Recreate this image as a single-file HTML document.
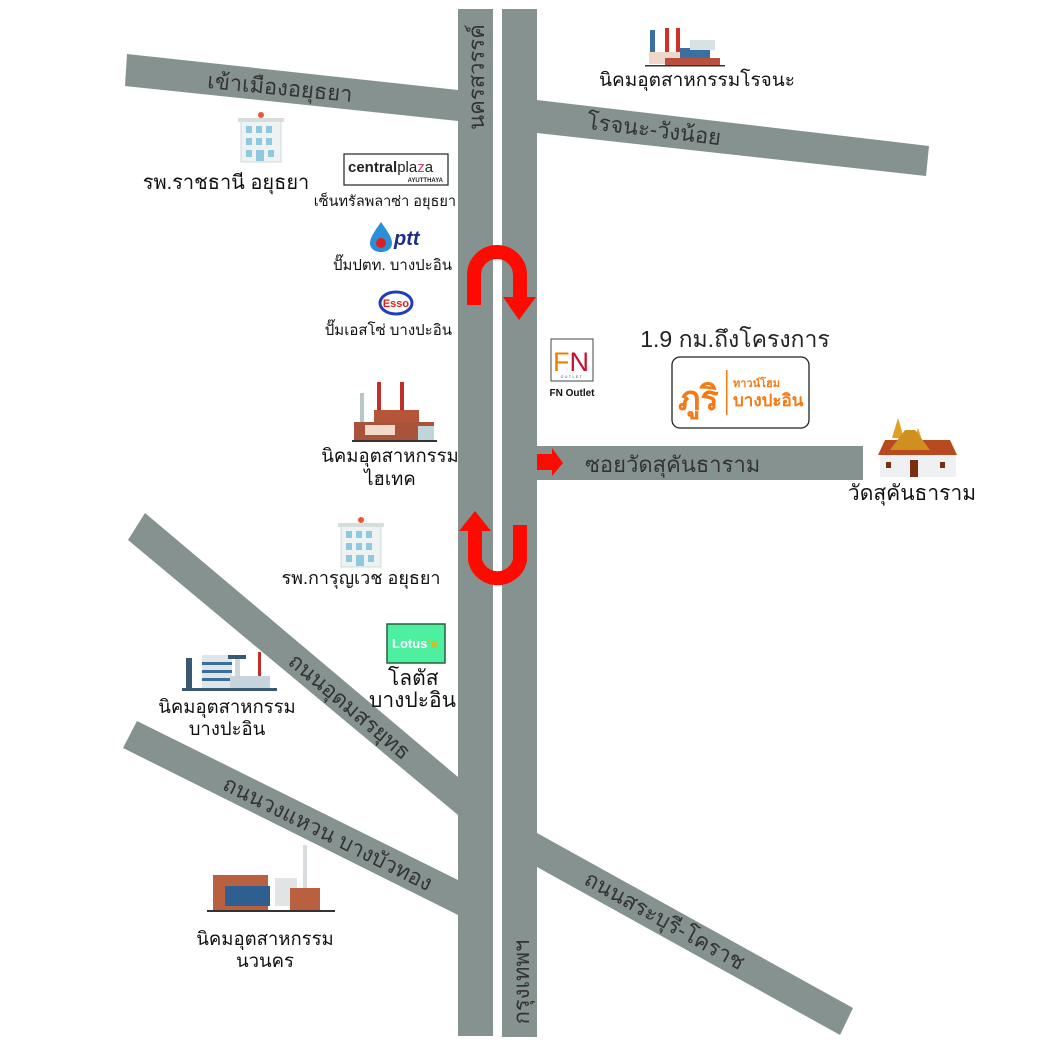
<!DOCTYPE html>
<html><head><meta charset="utf-8">
<style>
html,body{margin:0;padding:0;background:#fff;}
svg{display:block;}
text{font-family:"Liberation Sans","Noto Sans CJK SC",sans-serif;}
</style></head>
<body>
<svg width="1040" height="1040" viewBox="0 0 1040 1040" xmlns="http://www.w3.org/2000/svg">
<g fill="#85928f">
<polygon points="127,54 458,90 458,121 125,86"/>
<polygon points="537,100 929,146 926,176 537,133"/>
<rect x="537" y="446" width="326" height="34"/>
<polygon points="145,513 458,777 458,815 128,540"/>
<polygon points="137,721 458,880 458,915 123,748"/>
<polygon points="537,833 853,1008 840,1035 537,867"/>
<rect x="458" y="9" width="35" height="1027"/>
<rect x="502" y="9" width="35" height="1028"/>
</g>
<!-- road labels -->
<g fill="#333" font-size="22">
<text x="280" y="95" text-anchor="middle" transform="rotate(5.5 280 87)">เข้าเมืองอยุธยา</text>
<text x="654" y="137" text-anchor="middle" transform="rotate(7 654 130)">โรจนะ-วังน้อย</text>
<text x="350" y="714" text-anchor="middle" transform="rotate(40 350 706)">ถนนอุดมสรยุทธ</text>
<text x="328" y="841" text-anchor="middle" transform="rotate(26.4 328 833)">ถนนวงแหวน บางบัวทอง</text>
<text x="665" y="928" text-anchor="middle" transform="rotate(29 665 920)">ถนนสระบุรี-โคราช</text>
<text x="484" y="77" text-anchor="middle" transform="rotate(-90 484 77)">นครสวรรค์</text>
<text x="529" y="982" text-anchor="middle" transform="rotate(-90 529 982)">กรุงเทพฯ</text>
<text x="585" y="472">ซอยวัดสุคันธาราม</text>
</g>
<!-- red arrows -->
<g fill="none" stroke="#ff0a00" stroke-width="14">
<path d="M474,305 V275 A23,23 0 0 1 520,275 V300"/>
<path d="M475,530 V560 A23,23 0 0 0 520,560 V525"/>
</g>
<g fill="#ff0a00">
<polygon points="503,297 536,297 519,320"/>
<polygon points="459,531 491,531 475,511"/>
<polygon points="537,454 552,454 552,448 563,463 552,476 552,470 537,470"/>
</g>
<!-- hospitals -->
<g>
<rect x="241" y="120" width="40" height="42" fill="#eef2f2" stroke="#cfd8d8"/>
<rect x="238" y="118" width="46" height="4" fill="#d6dddd"/>
<circle cx="261" cy="115" r="3" fill="#e53"/>
<g fill="#8fc9e0"><rect x="246" y="126" width="6" height="7"/><rect x="256" y="126" width="6" height="7"/><rect x="266" y="126" width="6" height="7"/><rect x="246" y="138" width="6" height="7"/><rect x="256" y="138" width="6" height="7"/><rect x="266" y="138" width="6" height="7"/><rect x="246" y="150" width="6" height="7"/><rect x="256" y="150" width="8" height="11"/><rect x="268" y="150" width="6" height="7"/></g>
</g>
<g transform="translate(100,405)">
<rect x="241" y="120" width="40" height="42" fill="#eef2f2" stroke="#cfd8d8"/>
<rect x="238" y="118" width="46" height="4" fill="#d6dddd"/>
<circle cx="261" cy="115" r="3" fill="#e53"/>
<g fill="#8fc9e0"><rect x="246" y="126" width="6" height="7"/><rect x="256" y="126" width="6" height="7"/><rect x="266" y="126" width="6" height="7"/><rect x="246" y="138" width="6" height="7"/><rect x="256" y="138" width="6" height="7"/><rect x="266" y="138" width="6" height="7"/><rect x="246" y="150" width="6" height="7"/><rect x="256" y="150" width="8" height="11"/><rect x="268" y="150" width="6" height="7"/></g>
</g>
<!-- central plaza -->
<rect x="344" y="154" width="104" height="31" fill="#fff" stroke="#222" stroke-width="1.2"/>
<text x="348" y="172" font-size="15" font-weight="bold" fill="#222">central<tspan font-weight="normal">pla<tspan fill="#d04060">z</tspan>a</tspan></text>
<text x="443" y="182" font-size="6" font-weight="bold" text-anchor="end" fill="#222">AYUTTHAYA</text>
<!-- ptt -->
<path d="M381,222 C374,232 370,238 370,243 C370,249 375,252 381,252 C387,252 392,249 392,243 C392,238 388,232 381,222Z" fill="#2a8ed8"/>
<circle cx="381" cy="243" r="5" fill="#e02020"/>
<text x="394" y="245" font-size="20" font-weight="bold" font-style="italic" fill="#1c2e8a">ptt</text>
<!-- esso -->
<ellipse cx="396" cy="303" rx="16" ry="11" fill="#fff" stroke="#1f3fb8" stroke-width="3"/>
<text x="396" y="307" font-size="11" font-weight="bold" fill="#e0201c" text-anchor="middle">Esso</text>
<!-- factories -->
<g>
<rect x="377" y="382" width="4" height="30" fill="#c0302a"/><rect x="400" y="382" width="4" height="30" fill="#c0302a"/>
<rect x="360" y="393" width="4" height="30" fill="#b8c6c8"/>
<rect x="374" y="410" width="45" height="12" fill="#b5563a"/>
<rect x="354" y="422" width="80" height="18" fill="#a9533a"/>
<rect x="365" y="425" width="30" height="10" fill="#f2d8c8"/>
<rect x="418" y="426" width="16" height="14" fill="#c0d4dc"/>
<rect x="352" y="440" width="85" height="2" fill="#333"/>
</g>
<g>
<rect x="650" y="30" width="5" height="30" fill="#3a6fa0"/>
<rect x="665" y="28" width="4" height="25" fill="#d0302a"/><rect x="676" y="28" width="4" height="30" fill="#d0302a"/>
<rect x="649" y="52" width="40" height="12" fill="#f0d8c8"/>
<rect x="665" y="58" width="55" height="8" fill="#b85040"/>
<rect x="680" y="48" width="30" height="10" fill="#3a6fa0"/>
<rect x="690" y="40" width="25" height="10" fill="#d8e2e2"/>
<rect x="645" y="65" width="80" height="1.5" fill="#333"/>
</g>
<g>
<rect x="186" y="658" width="6" height="30" fill="#3a5870"/>
<rect x="202" y="655" width="30" height="35" fill="#dfe6ea"/>
<rect x="202" y="662" width="30" height="3" fill="#3a6fa0"/><rect x="202" y="670" width="30" height="3" fill="#3a6fa0"/><rect x="202" y="678" width="30" height="3" fill="#3a6fa0"/>
<rect x="228" y="655" width="18" height="4" fill="#3a5870"/><rect x="235" y="659" width="5" height="30" fill="#cfd8d8"/>
<rect x="258" y="652" width="3" height="30" fill="#c0302a"/>
<rect x="230" y="676" width="40" height="12" fill="#c8d4dc"/>
<rect x="182" y="688" width="95" height="3" fill="#3a5870"/>
</g>
<g>
<rect x="213" y="875" width="55" height="35" fill="#b8603f"/>
<rect x="225" y="886" width="45" height="20" fill="#2f5e90"/>
<rect x="275" y="878" width="22" height="28" fill="#e0e4e4"/>
<rect x="303" y="845" width="4" height="60" fill="#d8dcdc"/>
<rect x="290" y="888" width="30" height="22" fill="#b8603f"/>
<rect x="207" y="910" width="128" height="2" fill="#333"/>
</g>
<!-- lotus -->
<rect x="387" y="624" width="58" height="39" fill="#4df0a0" stroke="#2a6040" stroke-width="1.5"/>
<text x="392" y="648" font-size="13" font-weight="bold" fill="#fff">Lotus<tspan fill="#f5b000">'s</tspan></text>
<!-- FN -->
<rect x="551" y="339" width="42" height="42" fill="#fff" stroke="#444"/>
<text x="553" y="371" font-size="27" fill="#f07d00">F<tspan fill="#c8102e">N</tspan></text>
<text x="572" y="378" font-size="3.5" text-anchor="middle" fill="#444" letter-spacing="1.5">OUTLET</text>
<text x="572" y="396" font-size="10" font-weight="bold" text-anchor="middle" fill="#111">FN Outlet</text>
<!-- phoo ri -->
<rect x="672" y="357" width="137" height="71" rx="8" fill="#fff" stroke="#222" stroke-width="1.3"/>
<text x="678" y="410" font-size="34" font-weight="bold" fill="#f57a14">ภูริ</text>
<rect x="726" y="370" width="1.5" height="45" fill="#f57a14"/>
<text x="733" y="387" font-size="11" fill="#f57a14" font-weight="bold">ทาวน์โฮม</text>
<text x="733" y="406" font-size="17" fill="#f57a14" font-weight="bold">บางปะอิน</text>
<!-- temple -->
<g>
<polygon points="898,418 904,438 892,438" fill="#e0a020"/>
<polygon points="918,428 922,440 914,440" fill="#e0a020"/>
<polygon points="885,440 950,440 957,455 878,455" fill="#b84a20"/>
<polygon points="905,430 915,430 930,450 890,450" fill="#d09020"/>
<rect x="880" y="455" width="76" height="22" fill="#eef0f2"/>
<rect x="910" y="460" width="8" height="17" fill="#7a3010"/>
<rect x="886" y="462" width="5" height="6" fill="#7a3010"/><rect x="940" y="462" width="5" height="6" fill="#7a3010"/>
</g>
<!-- labels -->
<g fill="#111">
<text x="697" y="86" font-size="19" text-anchor="middle">นิคมอุตสาหกรรมโรจนะ</text>
<text x="226" y="189" font-size="20" text-anchor="middle">รพ.ราชธานี อยุธยา</text>
<text x="456" y="206" font-size="14.5" text-anchor="end">เซ็นทรัลพลาซ่า อยุธยา</text>
<text x="452" y="270" font-size="15" text-anchor="end">ปั๊มปตท. บางปะอิน</text>
<text x="452" y="335" font-size="15" text-anchor="end">ปั๊มเอสโซ่ บางปะอิน</text>
<text x="735" y="347" font-size="23" text-anchor="middle" fill="#222">1.9 กม.ถึงโครงการ</text>
<text x="390" y="462" font-size="18.5" text-anchor="middle">นิคมอุตสาหกรรม</text>
<text x="390" y="485" font-size="18.5" text-anchor="middle">ไฮเทค</text>
<text x="912" y="500" font-size="21" text-anchor="middle">วัดสุคันธาราม</text>
<text x="361" y="584" font-size="18" text-anchor="middle">รพ.การุญเวช อยุธยา</text>
<text x="388" y="685" font-size="21">โลตัส</text>
<text x="456" y="707" font-size="21" text-anchor="end">บางปะอิน</text>
<text x="227" y="713" font-size="18.5" text-anchor="middle">นิคมอุตสาหกรรม</text>
<text x="227" y="735" font-size="18.5" text-anchor="middle">บางปะอิน</text>
<text x="265" y="945" font-size="18.5" text-anchor="middle">นิคมอุตสาหกรรม</text>
<text x="265" y="967" font-size="18.5" text-anchor="middle">นวนคร</text>
</g>
</svg>
</body></html>
